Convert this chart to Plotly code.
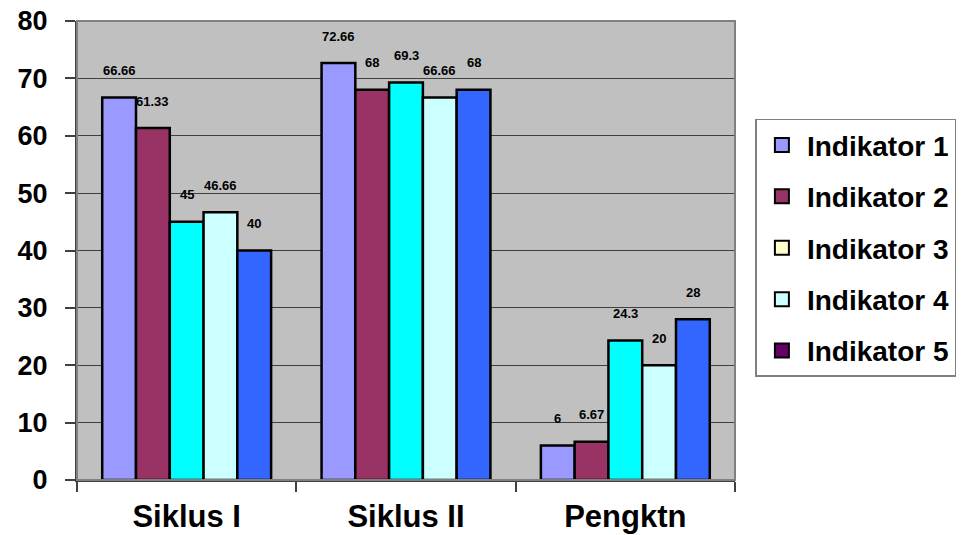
import plotly.graph_objects as go

# Grouped bar chart: five indicators per cycle, plus the increase ("Pengktn")
categories = ["Siklus I", "Siklus II", "Pengktn"]
series_names = ["Indikator 1", "Indikator 2", "Indikator 3", "Indikator 4", "Indikator 5"]
indikator_1 = [66.66, 72.66, 6]
indikator_2 = [61.33, 68, 6.67]
indikator_3 = [45, 69.3, 24.3]
indikator_4 = [46.66, 66.66, 20]
indikator_5 = [40, 68, 28]
series_values = [indikator_1, indikator_2, indikator_3, indikator_4, indikator_5]
value_labels = [
    ["66.66", "72.66", "6"],
    ["61.33", "68", "6.67"],
    ["45", "69.3", "24.3"],
    ["46.66", "66.66", "20"],
    ["40", "68", "28"],
]
y_ticks = [0, 10, 20, 30, 40, 50, 60, 70, 80]

bar_colors = ["#9999FF", "#993366", "#00FFFF", "#CCFFFF", "#3366FF"]
legend_colors = ["#9999FF", "#993366", "#FFFFCC", "#CCFFFF", "#660066"]

FONT = "Liberation Sans, Arial, sans-serif"
BARGAP = 0.23

fig = go.Figure()

for name, vals, col in zip(series_names, series_values, bar_colors):
    fig.add_trace(go.Bar(
        x=categories, y=vals, name=name, showlegend=False,
        marker=dict(color=col, line=dict(color="black", width=2.5)),
    ))

# legend entries use their own swatch colours
for i, (name, col) in enumerate(zip(series_names, legend_colors)):
    fig.add_trace(go.Scatter(
        x=[None], y=[None], mode="markers", name=name, legendgroup=f"g{i}",
        marker=dict(symbol="square", size=14, color=col, line=dict(color="black", width=2)),
    ))

# value labels above each bar
n = len(series_names)
bar_w = (1 - BARGAP) / n
annotations = []
for i, (vals, labels) in enumerate(zip(series_values, value_labels)):
    for c, (v, lab) in enumerate(zip(vals, labels)):
        annotations.append(dict(
            x=c + (i - (n - 1) / 2) * bar_w, y=v, xref="x", yref="y",
            text=lab, showarrow=False, yshift=27, yanchor="middle",
            font=dict(family=FONT, size=13, color="black", weight="bold"),
        ))

fig.update_layout(
    width=964, height=535,
    margin=dict(l=77, r=229, t=21, b=55, autoexpand=False),
    paper_bgcolor="white", plot_bgcolor="#C0C0C0",
    barmode="group", bargap=BARGAP, bargroupgap=0,
    font=dict(family=FONT, color="black"),
    annotations=annotations,
    legend=dict(
        x=1.031, y=0.787, xanchor="left", yanchor="top",
        bgcolor="white", bordercolor="#808080", borderwidth=1.5,
        font=dict(family=FONT, size=28, color="black", weight="bold"),
        traceorder="grouped", tracegroupgap=12, itemwidth=40,
    ),
    shapes=[dict(type="rect", xref="paper", yref="paper", x0=0, x1=1, y0=0, y1=1,
                 line=dict(color="#808080", width=2), layer="above")],
)

fig.update_xaxes(
    type="category", categoryorder="array", categoryarray=categories,
    tickson="boundaries", ticks="outside", ticklen=10, tickwidth=1.5, tickcolor="#404040",
    showline=True, linecolor="#404040", linewidth=2,
    showgrid=False, ticklabelstandoff=8,
    tickfont=dict(family=FONT, size=31, color="black", weight="bold"),
)

fig.update_yaxes(
    range=[0, 80], tickvals=y_ticks,
    ticks="outside", ticklen=10, tickwidth=1.5, tickcolor="#404040",
    showline=True, linecolor="#404040", linewidth=2,
    showgrid=True, gridcolor="#404040", gridwidth=1,
    zeroline=False, ticklabelstandoff=12,
    tickfont=dict(family=FONT, size=27, color="black", weight="bold"),
)

fig.write_html("out.html")
